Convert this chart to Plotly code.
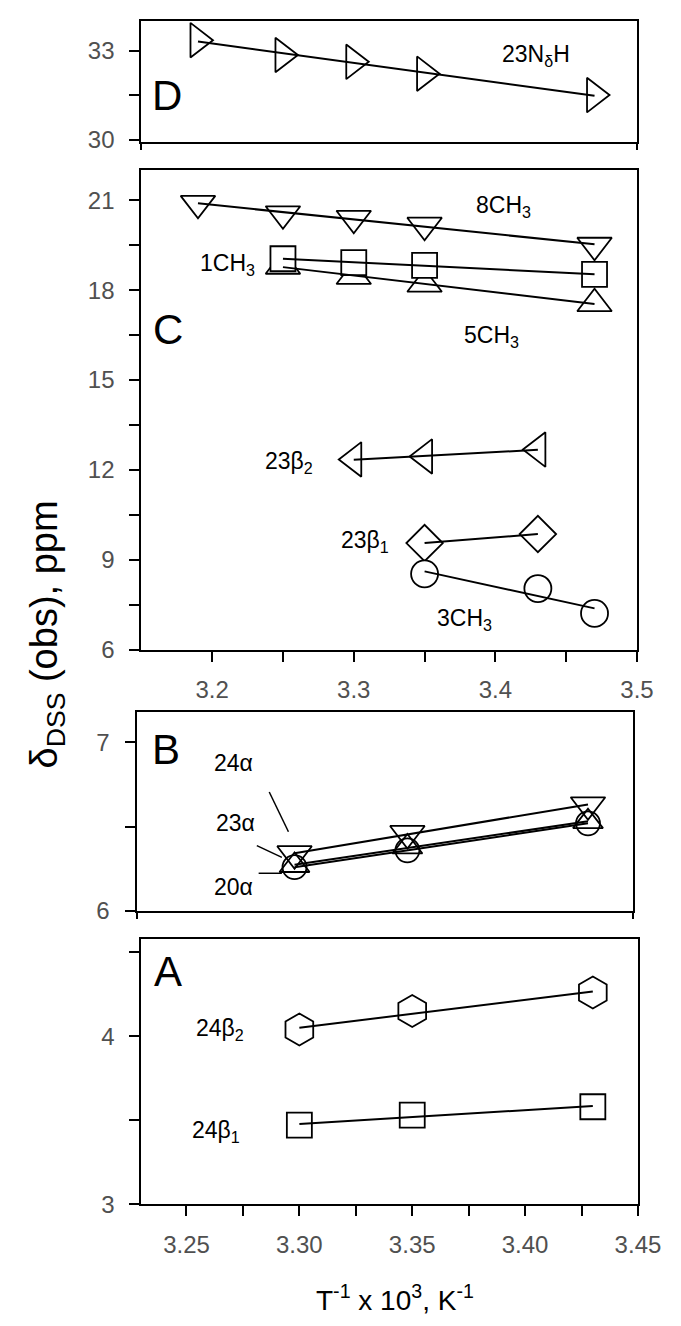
import numpy as np
import plotly.graph_objects as go

FONT = "Liberation Sans Narrow, Liberation Sans, Arial, sans-serif"

# ---------------- data ----------------
# Panel D
d_x = [3.19, 3.25, 3.30, 3.35, 3.47]
d_23NdH = [33.35, 32.85, 32.62, 32.22, 31.5]

# Panel C
c_x5 = [3.19, 3.25, 3.30, 3.35, 3.47]
c_8CH3 = [20.9, 20.55, 20.4, 20.17, 19.5]
c_x4 = [3.25, 3.30, 3.35, 3.47]
c_1CH3 = [19.05, 18.92, 18.83, 18.53]
c_5CH3 = [18.8, 18.46, 18.2, 17.55]
c_x3 = [3.30, 3.35, 3.43]
c_23b2 = [12.35, 12.45, 12.68]
c_x2 = [3.35, 3.43]
c_23b1 = [9.56, 9.86]
c_x3b = [3.35, 3.43, 3.47]
c_3CH3 = [8.53, 8.04, 7.21]

# Panel B
b_x = [3.30, 3.35, 3.43]
b_24a = [6.34, 6.46, 6.63]
b_23a = [6.26, 6.36, 6.52]
b_20a = [6.27, 6.38, 6.53]

# Panel A
a_x = [3.30, 3.35, 3.43]
a_24b2 = [4.04, 4.15, 4.26]
a_24b1 = [3.47, 3.53, 3.58]

# ticks (major = labelled, minor = unlabelled)
cx_tickvals = [3.2, 3.3, 3.4, 3.5]
cx_ticktext = ["3.2", "3.3", "3.4", "3.5"]
cx_minor = [3.25, 3.35, 3.45]
ax_tickvals = [3.25, 3.30, 3.35, 3.40, 3.45]
ax_ticktext = ["3.25", "3.30", "3.35", "3.40", "3.45"]
ax_minor = [3.275, 3.325, 3.375, 3.425]
dy_tickvals = [30, 33]
dy_ticktext = ["30", "33"]
dy_minor = [31.5]
cy_tickvals = [6, 9, 12, 15, 18, 21]
cy_ticktext = ["6", "9", "12", "15", "18", "21"]
cy_minor = [7.5, 10.5, 13.5, 16.5, 19.5]
by_tickvals = [6, 7]
by_ticktext = ["6", "7"]
by_minor = [6.5]
ay_tickvals = [3, 4]
ay_ticktext = ["3", "4"]
ay_minor = [3.5, 4.5]

fig = go.Figure()


def add_markers(x, y, xa, ya, symbol, size, filled=True):
    fig.add_trace(go.Scatter(
        x=x, y=y, xaxis=xa, yaxis=ya, mode="markers", showlegend=False,
        cliponaxis=False,
        marker=dict(symbol=symbol if filled else symbol + "-open", size=size,
                    color="white" if filled else "black",
                    line=dict(color="black", width=1.8))))


def add_fit(x, y, xa, ya):
    p = np.polyfit(x, y, 1)
    xs = [min(x), max(x)]
    fig.add_trace(go.Scatter(
        x=xs, y=list(np.polyval(p, xs)), xaxis=xa, yaxis=ya, mode="lines",
        showlegend=False, cliponaxis=False,
        line=dict(color="black", width=2)))


# Panel D (x/y)
add_markers(d_x, d_23NdH, "x", "y", "triangle-right", 30)
add_fit(d_x, d_23NdH, "x", "y")

# Panel C (x2/y2)
add_markers(c_x5, c_8CH3, "x2", "y2", "triangle-down", 30)
add_markers(c_x4, c_5CH3, "x2", "y2", "triangle-up", 30)
add_markers(c_x4, c_1CH3, "x2", "y2", "square", 25)
add_markers(c_x3, c_23b2, "x2", "y2", "triangle-left", 30)
add_markers(c_x2, c_23b1, "x2", "y2", "diamond", 28)
add_markers(c_x3b, c_3CH3, "x2", "y2", "circle", 27)
add_fit(c_x5, c_8CH3, "x2", "y2")
add_fit(c_x4, c_1CH3, "x2", "y2")
add_fit(c_x4, c_5CH3, "x2", "y2")
add_fit(c_x3, c_23b2, "x2", "y2")
add_fit(c_x2, c_23b1, "x2", "y2")
add_fit(c_x3b, c_3CH3, "x2", "y2")

# Panel B (x3/y3)
add_markers(b_x, b_20a, "x3", "y3", "triangle-up", 26, filled=False)
add_markers(b_x, b_23a, "x3", "y3", "circle", 24, filled=False)
add_markers(b_x, b_24a, "x3", "y3", "triangle-down", 30, filled=False)
add_fit(b_x, b_24a, "x3", "y3")
add_fit(b_x, b_23a, "x3", "y3")
add_fit(b_x, b_20a, "x3", "y3")

# Panel A (x4/y4)
add_markers(a_x, a_24b2, "x4", "y4", "hexagon", 32)
add_markers(a_x, a_24b1, "x4", "y4", "square", 25)
add_fit(a_x, a_24b2, "x4", "y4")
add_fit(a_x, a_24b1, "x4", "y4")

TICKFONT = dict(family=FONT, size=24, color="#505050")
TICKSTYLE = dict(ticks="outside", ticklen=10, tickwidth=2, tickcolor="black")


def xax(domain, rng, anchor, tickvals=None, ticktext=None, minor=None):
    d = dict(domain=domain, range=rng, anchor=anchor, showline=True,
             linecolor="black", linewidth=2, mirror=True, showgrid=False,
             zeroline=False, tickfont=TICKFONT, ticklabelstandoff=8)
    if tickvals is None:
        d.update(tickvals=[rng[0], rng[1]], showticklabels=False,
                 ticks="outside", ticklen=6, tickwidth=2, tickcolor="black")
    else:
        d.update(tickvals=tickvals, ticktext=ticktext, **TICKSTYLE,
                 minor=dict(tickvals=minor, **TICKSTYLE, showgrid=False))
    return d


def yax(domain, rng, anchor, tickvals, ticktext, minor):
    return dict(domain=domain, range=rng, anchor=anchor, showline=True,
                linecolor="black", linewidth=2, mirror=True, showgrid=False,
                zeroline=False, tickfont=TICKFONT, tickvals=tickvals,
                ticktext=ticktext, **TICKSTYLE, ticklabelstandoff=10,
                minor=dict(tickvals=minor, **TICKSTYLE, showgrid=False))


W, H = 681, 1326
def px_x(a, b):
    return [a / W, b / W]
def px_y(top, bottom):
    return [1 - bottom / H, 1 - top / H]

fig.update_layout(
    width=W, height=H, margin=dict(l=0, r=0, t=0, b=0),
    plot_bgcolor="white", paper_bgcolor="white",
    font=dict(family=FONT, color="black"),
    xaxis=xax(px_x(138, 651), [3.15, 3.5], "y"),
    yaxis=yax(px_y(13, 135), [29.93, 34.0], "x", dy_tickvals, dy_ticktext, dy_minor),
    xaxis2=xax(px_x(138, 651), [3.15, 3.5], "y2", cx_tickvals, cx_ticktext, cx_minor),
    yaxis2=yax(px_y(164, 648), [6, 22], "x2", cy_tickvals, cy_ticktext, cy_minor),
    xaxis3=xax(px_x(133, 647), [3.23, 3.45], "y3"),
    yaxis3=yax(px_y(711, 912), [6, 7.18], "x3", by_tickvals, by_ticktext, by_minor),
    xaxis4=xax(px_x(138, 652), [3.23, 3.45], "y4", ax_tickvals, ax_ticktext, ax_minor),
    yaxis4=yax(px_y(940, 1208), [3, 4.58], "x4", ay_tickvals, ay_ticktext, ay_minor),
)

LBL = dict(family=FONT, size=23, color="black")
BIG = dict(family=FONT, size=42, color="black")
ann = []


def label(text, x, y, xa, ya, font=LBL):
    ann.append(dict(text=text, x=x, y=y, xref=xa, yref=ya, showarrow=False,
                    xanchor="center", yanchor="middle", font=font))


label("D", 3.168, 31.47, "x", "y", BIG)
label("23N<sub>δ</sub>H", 3.429, 32.85, "x", "y")
label("C", 3.169, 16.68, "x2", "y2", BIG)
label("8CH<sub>3</sub>", 3.406, 20.78, "x2", "y2")
label("1CH<sub>3</sub>", 3.2105, 18.86, "x2", "y2")
label("5CH<sub>3</sub>", 3.397, 16.45, "x2", "y2")
label("23β<sub>2</sub>", 3.254, 12.25, "x2", "y2")
label("23β<sub>1</sub>", 3.308, 9.6, "x2", "y2")
label("3CH<sub>3</sub>", 3.378, 7.0, "x2", "y2")
label("B", 3.243, 6.96, "x3", "y3", BIG)
label("24α", 3.273, 6.88, "x3", "y3")
label("23α", 3.274, 6.52, "x3", "y3")
label("20α", 3.273, 6.14, "x3", "y3")
label("A", 3.242, 4.386, "x4", "y4", BIG)
label("24β<sub>2</sub>", 3.265, 4.04, "x4", "y4")
label("24β<sub>1</sub>", 3.263, 3.43, "x4", "y4")

ann.append(dict(text="T<sup>-1</sup> x 10<sup>3</sup>, K<sup>-1</sup>",
                x=401 / W, y=1 - 1303 / H, xref="paper", yref="paper",
                showarrow=False, xanchor="center", yanchor="middle",
                font=dict(family=FONT, size=28, color="black")))
ann.append(dict(text="δ<sub>DSS</sub> (obs), ppm",
                x=40 / W, y=1 - 633 / H, xref="paper", yref="paper",
                showarrow=False, xanchor="center", yanchor="middle",
                textangle=-90, font=dict(family=FONT, size=38, color="black")))
fig.update_layout(annotations=ann)

# leader lines in panel B
leaders = [
    (3.2888, 6.706, 3.2973, 6.47),
    (3.2833, 6.388, 3.2944, 6.318),
    (3.2841, 6.224, 3.2944, 6.224),
]
fig.update_layout(shapes=[
    dict(type="line", xref="x3", yref="y3", x0=a, y0=b, x1=c, y1=d,
         line=dict(color="black", width=1.5)) for a, b, c, d in leaders
])

fig.write_html("out.html")
